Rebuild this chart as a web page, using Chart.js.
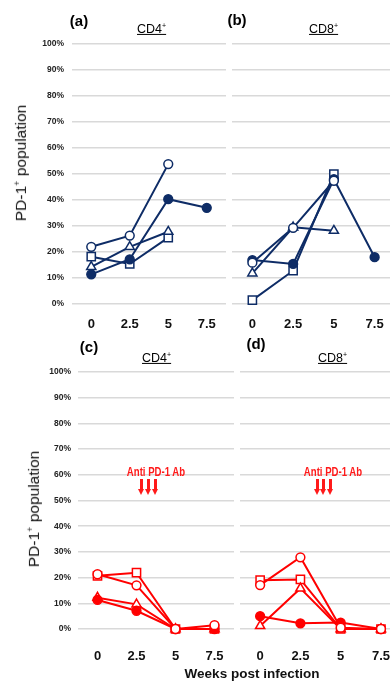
<!DOCTYPE html>
<html>
<head>
<meta charset="utf-8">
<script src="https://cdn.jsdelivr.net/npm/chart.js@4"></script>
<style>
body { margin: 0; width: 390px; height: 681px; overflow: hidden; background: #fff; position: relative; font-family: "Liberation Sans", Arial, sans-serif; }
canvas { position: absolute; }
.panel { position: absolute; font-weight: bold; font-size: 15px; color: #000; transform: translate(-50%, -50%); white-space: nowrap; }
.cell { position: absolute; font-size: 12.5px; color: #000; text-decoration: underline; white-space: nowrap; transform: translateY(-50%); }
.cell sup { font-size: 7px; }
.ytitle { position: absolute; font-size: 15.5px; color: #111; transform: translate(-50%, -50%) rotate(-90deg); white-space: nowrap; }
.ytitle sup { font-size: 9px; }
.xtitle { position: absolute; font-size: 13.5px; font-weight: bold; color: #111; transform: translate(-50%, -50%); white-space: nowrap; }
.ab { position: absolute; font-family: "Liberation Sans", Arial, sans-serif; font-weight: bold; font-size: 12px; color: #ff1a1a; transform: translate(-50%, -50%) scaleX(0.8); white-space: nowrap; }
.arr { position: absolute; width: 3px; height: 11px; background: #ff1a1a; }
.arr::after { content: ""; position: absolute; left: -2px; top: 10px; border-left: 3.5px solid transparent; border-right: 3.5px solid transparent; border-top: 6px solid #ff1a1a; }
</style>
</head>
<body>
<canvas id="ca" width="230" height="340" style="left:0;top:0"></canvas>
<canvas id="cb" width="169" height="340" style="left:226px;top:0"></canvas>
<canvas id="cc" width="238" height="341" style="left:0;top:340px"></canvas>
<canvas id="cd" width="168" height="341" style="left:234px;top:340px"></canvas>

<div class="panel" style="left:79px;top:20px">(a)</div>
<div class="cell" style="left:137px;top:29px">CD4<sup>+</sup></div>
<div class="panel" style="left:237px;top:19px">(b)</div>
<div class="cell" style="left:309px;top:29px">CD8<sup>+</sup></div>
<div class="panel" style="left:89px;top:346px">(c)</div>
<div class="cell" style="left:142px;top:358px">CD4<sup>+</sup></div>
<div class="panel" style="left:256px;top:343px">(d)</div>
<div class="cell" style="left:318px;top:358px">CD8<sup>+</sup></div>

<div class="ytitle" style="left:21px;top:163px">PD-1<sup>+</sup> population</div>
<div class="ytitle" style="left:34px;top:509px">PD-1<sup>+</sup> population</div>
<div class="xtitle" style="left:252px;top:673px">Weeks post infection</div>

<div class="ab" style="left:156px;top:472px">Anti PD-1 Ab</div>
<div class="ab" style="left:333px;top:472px">Anti PD-1 Ab</div>

<script>
const categories = ["0", "2.5", "5", "7.5"];
const yTickLabels = ["0%", "10%", "20%", "30%", "40%", "50%", "60%", "70%", "80%", "90%", "100%"];

// (a) CD4+
const openCircleA = [22, 26.3, 53.8, null];
const filledCircleA = [11.4, 17.2, 40.3, 37];
const triangleA = [14.3, 22, 27.8, null];
const squareA = [18.2, 15.4, 25.5, null];

// (b) CD8+
const openCircleB = [15.9, 29.3, 47.4, null];
const filledCircleB = [16.9, 15.4, 48, 18];
const triangleB = [11.8, 29.5, 28.2, null];
const squareB = [1.5, 12.8, 50, null];

// (c) CD4+ with anti PD-1
const openCircleC = [21.3, 17, 0, 1.5];
const filledCircleC = [11.3, 7.1, 0, 0];
const triangleC = [12.2, 9.6, 0, 0];
const squareC = [20.7, 21.9, 0, 0];

// (d) CD8+ with anti PD-1
const openCircleD = [17.1, 27.9, 0.5, 0];
const filledCircleD = [5, 2.2, 2.5, 0];
const triangleD = [1.2, 15.8, 0, 0];
const squareD = [19, 19.3, 0, 0];

const navy = "#0e2c66";
const red = "#ff0000";

function series(data, style, filled, color) {
    return {
        data: data,
        borderColor: color,
        backgroundColor: filled ? color : "#fff",
        pointBackgroundColor: filled ? color : "#fff",
        pointBorderColor: color,
        pointStyle: style,
        pointRadius: style === "rect" ? 5.8 : (style === "triangle" ? 5.3 : 4.4),
        pointBorderWidth: 1.5,
        borderWidth: 2,
        tension: 0,
        clip: false,
    };
}

function makeChart(id, sets, color, o) {
    return new Chart(document.getElementById(id), {
        type: "line",
        data: {
            labels: categories,
            datasets: [
                series(sets[0], "circle", false, color),
                series(sets[1], "circle", true, color),
                series(sets[2], "triangle", false, color),
                series(sets[3], "rect", false, color),
            ],
        },
        options: {
            responsive: false,
            animation: false,
            devicePixelRatio: 1,
            layout: { autoPadding: false, padding: { top: o.top, right: o.right, left: 0, bottom: 0 } },
            plugins: { legend: { display: false }, tooltip: { enabled: false } },
            scales: {
                x: {
                    offset: true,
                    grid: { display: false },
                    border: { display: false },
                    ticks: { color: "#111", padding: o.xPad, font: { family: "Liberation Sans", size: 13, weight: "bold" } },
                    afterFit: (s) => { s.height = o.xHeight; },
                },
                y: {
                    min: 0,
                    max: 100,
                    ticks: {
                        stepSize: 10,
                        display: o.yLabels,
                        padding: o.yPad,
                        color: "#222",
                        font: { family: "Liberation Sans", size: 8.5, weight: "bold" },
                        callback: (v, i) => yTickLabels[i],
                    },
                    grid: { color: "#d9d9d9", lineWidth: 1.5, drawTicks: false },
                    border: { display: false },
                    afterFit: (s) => { s.width = o.yWidth; },
                },
            },
        },
    });
}

makeChart("ca", [openCircleA, filledCircleA, triangleA, squareA], navy,
    { top: 44, right: 4, yWidth: 72, yPad: 8, xHeight: 36, xPad: 5, yLabels: true });
makeChart("cb", [openCircleB, filledCircleB, triangleB, squareB], navy,
    { top: 44, right: 0, yWidth: 6, yPad: 8, xHeight: 36, xPad: 5, yLabels: false });
makeChart("cc", [openCircleC, filledCircleC, triangleC, squareC], red,
    { top: 32, right: 4, yWidth: 78, yPad: 7, xHeight: 52, xPad: 12, yLabels: true });
makeChart("cd", [openCircleD, filledCircleD, triangleD, squareD], red,
    { top: 32, right: 0, yWidth: 6, yPad: 7, xHeight: 52, xPad: 12, yLabels: false });

// treatment arrows
[[141, 148, 155], [317, 323.5, 330]].forEach((xs) => {
    xs.forEach((x) => {
        const a = document.createElement("div");
        a.className = "arr";
        a.style.left = (x - 1.5) + "px";
        a.style.top = "479px";
        document.body.appendChild(a);
    });
});
</script>
</body>
</html>
